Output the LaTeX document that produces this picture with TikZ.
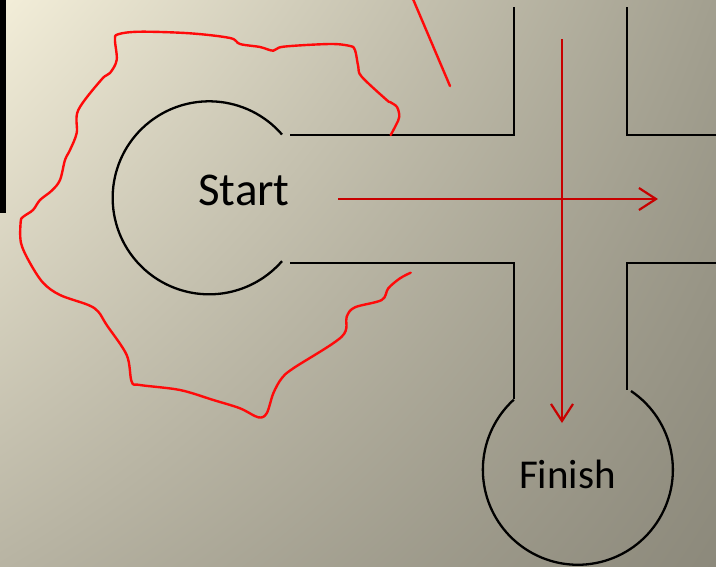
\documentclass[tikz,border=0pt]{standalone}
\usepackage{fontspec}
\setmainfont{Carlito}
\usetikzlibrary{arrows.meta,shadings}
\definecolor{bgTL}{HTML}{F3EED9}
\definecolor{bgTR}{HTML}{A29F8F}
\definecolor{bgBL}{HTML}{B8B4A3}
\definecolor{bgBR}{HTML}{8C897B}
\definecolor{arrowred}{HTML}{C80000}
\definecolor{penred}{HTML}{FF0A0A}
\tikzset{
  wall/.style={draw=black, line width=2.3pt, line join=miter},
  route/.style={draw=arrowred, line width=2.2pt, -{Straight Barb[length=17pt,width=22pt,line width=2.2pt]}},
  pen/.style={draw=penred, line width=2.4pt, line cap=round, line join=round},
  label/.style={font=\fontsize{47}{56}\selectfont, text=black, inner sep=0pt},
  flabel/.style={font=\fontsize{41}{49}\selectfont, text=black, inner sep=0pt}
}
\begin{document}
\begin{tikzpicture}[x=1pt,y=-1pt]
\useasboundingbox (0,0) rectangle (716,566);
\shade[upper left=bgTL, upper right=bgTR, lower left=bgBL, lower right=bgBR] (0,0) rectangle (716,566);

% left bar
\coordinate (barT) at (3,0);
\coordinate (barB) at (3,213);
\draw[black, line width=5.5pt] (barT) -- (barB);

% start room
\coordinate (sTop) at (282,134.5);
\draw[wall] (sTop) arc[start angle=-41, end angle=-319, radius=96.5];
\coordinate (w1a) at (290,135);
\coordinate (w1b) at (514,135);
\coordinate (w1c) at (514,7);
\draw[wall] (w1a) -- (w1b) -- (w1c);
\coordinate (w2a) at (627,7);
\coordinate (w2b) at (627,135);
\coordinate (w2c) at (716,135);
\draw[wall] (w2a) -- (w2b) -- (w2c);
\coordinate (w3a) at (290,263);
\coordinate (w3b) at (514,263);
\coordinate (w3c) at (514,399);
\draw[wall] (w3a) -- (w3b) -- (w3c);
\coordinate (w4a) at (716,263);
\coordinate (w4b) at (627,263);
\coordinate (w4c) at (627,390);
\draw[wall] (w4a) -- (w4b) -- (w4c);

% finish room
\coordinate (fRight) at (631,391);
\draw[wall] (fRight) arc[start angle=-56, end angle=227.6, radius=95];

\node[label, anchor=base] (start) at (244,205.5) {Start};
\node[flabel, anchor=base] (finish) at (567.5,488) {Finish};

% route arrows
\coordinate (hA) at (338,199);
\coordinate (hB) at (658,199);
\draw[route] (hA) -- (hB);
\coordinate (vA) at (562,39);
\coordinate (vB) at (562,423);
\draw[route] (vA) -- (vB);

% pen strokes
\coordinate (pA) at (413,-1);
\coordinate (pB) at (450,86);
\draw[pen] (pA) -- (pB);
\draw[pen] plot[smooth, tension=0.55] coordinates {
(390.7,135) (396,125) (399.3,116.7) (397,107) (390,102) (386.7,100) (361.7,76.7) (358.3,66.7) (355,50) (350,46) (330,44) (283.3,46.7) (273.3,50.7) (260,47) (240,44) (230,38) (190,33.3) (140,31.7) (118,34.3) (115,40) (116.7,60) (110,73) (101.7,79.3) (78.3,110) (76.7,133) (70,150) (65,160) (60,180) (51.7,190.7) (40,200) (33,210) (23.3,216.7) (20.7,221.7) (21,243) (30,263) (43.3,283) (60,295) (88.3,305) (98.3,311.7) (106.7,325) (126.7,355) (131.7,381.7) (140,385) (180,390) (213.3,400) (240,408.3) (258.3,417.3) (266.7,413.3) (273.3,393.3) (281.7,378.3) (293.3,368.3) (341.7,336.7) (346.7,316.7) (355,307.3) (381.7,300) (388.3,288.3) (400,278.3) (410.7,272.7)};
\end{tikzpicture}
\end{document}
